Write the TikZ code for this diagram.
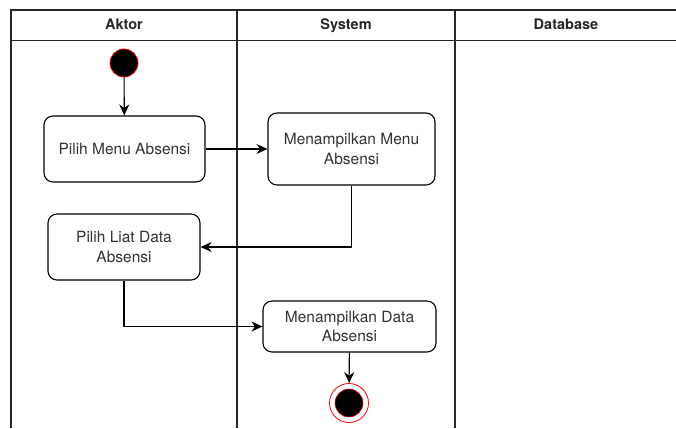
\documentclass[tikz,border=0pt]{standalone}
\usepackage{fontspec}
\setmainfont{TeX Gyre Heros}
\usetikzlibrary{arrows.meta}
\begin{document}
\begin{tikzpicture}[x=1pt,y=-1pt,
  lane/.style={draw=black!85,line width=1.4pt},
  act/.style={draw=black,line width=1.1pt,rounded corners=9pt,fill=white,align=center,
    font=\fontsize{15.5}{19.5}\selectfont,text=black!80,inner sep=0pt},
  flow/.style={draw=black,line width=1.1pt,-{Stealth[length=11pt,width=10pt]}},
  hdr/.style={font=\bfseries\fontsize{14.5}{17}\selectfont,text=black!85}]
\useasboundingbox (0,0) rectangle (676,428);
% swimlanes
\draw[lane] (11,428) -- (11,10) -- (680,10);
\draw[lane] (11,40.5) -- (680,40.5);
\draw[lane] (237,10) -- (237,428);
\draw[lane] (455,10) -- (455,428);
\node[hdr,anchor=base] (h1) at (124,30) {Aktor};
\node[hdr,anchor=base] (h2) at (346,30) {System};
\node[hdr,anchor=base] (h3) at (566,30) {Database};
% start
\node[circle,fill=black,draw=red,line width=0.8pt,minimum size=28pt,inner sep=0pt] (start) at (124,63) {};
% activities
\node[act,minimum width=161pt,minimum height=66pt] (pm) at (124.5,149) {Pilih Menu Absensi};
\node[act,minimum width=167pt,minimum height=72pt] (mm) at (351.5,149) {Menampilkan Menu\\Absensi};
\node[act,minimum width=152pt,minimum height=66pt] (pl) at (124,247) {Pilih Liat Data\\Absensi};
\node[act,minimum width=173pt,minimum height=51pt] (md) at (349.5,326.5) {Menampilkan Data\\Absensi};
% end
\node[circle,draw=red,line width=0.8pt,fill=white,minimum size=39pt,inner sep=0pt] (end) at (349,403) {};
\node[circle,fill=black,draw=red,line width=0.5pt,minimum size=28pt,inner sep=0pt] (endin) at (end.center) {};
% flows
\draw[flow] (start) -- (pm);
\draw[flow] (pm) -- (mm);
\draw[flow] (mm.south) |- (pl.east);
\draw[flow] (pl.south) |- (md.west);
\draw[flow] (md) -- (end);
\end{tikzpicture}
\end{document}
